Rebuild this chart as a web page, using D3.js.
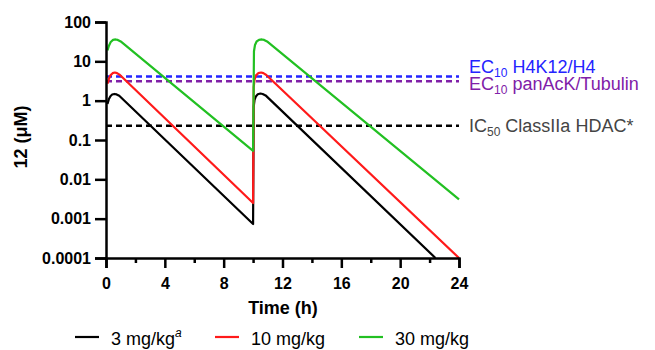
<html>
  <head>
    <script src="https://d3js.org/d3.v7.min.js"></script>
    <style>
      body { margin: 0; background: white; }
      text { font-family: Arial, "Liberation Sans", sans-serif; }
    </style>
  </head>
  <body>
    <svg id="pk" width="655" height="350"></svg>
    <script>
      // data: [time (h), concentration (uM)]
      const dose3 = [
        [0.1, 0.82], [0.2, 1.1], [0.3, 1.3], [0.42, 1.43], [0.57, 1.48], [0.72, 1.44], [0.9, 1.33],
        [10.0, 0.00073],
        [10.04, 0.7], [10.1, 1.05], [10.2, 1.3], [10.32, 1.45], [10.5, 1.52], [10.65, 1.48], [10.85, 1.36],
        [22.4, 0.0001]
      ];
      const dose10 = [
        [0.1, 2.7], [0.2, 3.6], [0.3, 4.4], [0.45, 5.0], [0.6, 5.2], [0.75, 5.0], [0.95, 4.5],
        [10.0, 0.0025],
        [10.04, 2.2], [10.1, 3.4], [10.2, 4.4], [10.35, 5.0], [10.55, 5.2], [10.7, 5.0], [10.9, 4.5],
        [24.0, 0.0001]
      ];
      const dose30 = [
        [0.1, 19], [0.2, 25], [0.32, 31], [0.48, 35], [0.65, 36], [0.8, 35], [1.0, 32],
        [10.0, 0.053],
        [10.06, 18], [10.13, 26], [10.24, 32], [10.4, 35], [10.6, 36], [10.75, 35], [10.95, 32],
        [24.0, 0.0031]
      ];
      const seriesNames = ["3 mg/kg", "10 mg/kg", "30 mg/kg"];
      const seriesColors = ["#000000", "#ff1a1a", "#22c022"];

      // thresholds (dashed lines)
      const thresholdValues = [4.1, 3.1, 0.23];
      const thresholdColors = ["#2424ff", "#8020a8", "#000000"];
      const thresholdLabels = [
        ["EC", "10", " H4K12/H4"],
        ["EC", "10", " panAcK/Tubulin"],
        ["IC", "50", " ClassIIa HDAC*"]
      ];
      const labelColors = ["#2424ff", "#8020a8", "#444444"];

      const yTicks = [0.0001, 0.001, 0.01, 0.1, 1, 10, 100];
      const yTickLabels = ["0.0001", "0.001", "0.01", "0.1", "1", "10", "100"];
      const xMajor = [0, 4, 8, 12, 16, 20, 24];
      const xMinor = [2, 6, 10, 14, 18, 22];

      const svg = d3.select("#pk");
      const x = d3.scaleLinear().domain([0, 24]).range([106, 459]);
      const y = d3.scaleLog().domain([0.0001, 100]).range([258, 22]);

      // threshold lines
      svg.selectAll("line.thr")
        .data(thresholdValues)
        .join("line")
        .attr("class", "thr")
        .attr("x1", x(0))
        .attr("x2", x(24))
        .attr("y1", d => y(d))
        .attr("y2", d => y(d))
        .attr("stroke", (d, i) => thresholdColors[i])
        .attr("stroke-width", 2.5)
        .attr("stroke-dasharray", "6,4");

      // curves, clipped to the plot
      svg.append("clipPath").attr("id", "plotclip")
        .append("rect").attr("x", x(0)).attr("y", 0)
        .attr("width", x(24) - x(0) + 2).attr("height", y(0.0001));

      const line = d3.line()
        .x(d => x(d[0]))
        .y(d => y(d[1]));

      svg.append("g").attr("clip-path", "url(#plotclip)")
        .selectAll("path")
        .data([dose3, dose10, dose30])
        .join("path")
        .attr("d", line)
        .attr("fill", "none")
        .attr("stroke", (d, i) => seriesColors[i])
        .attr("stroke-width", 2.2)
        .attr("stroke-linejoin", "round");

      // axes
      svg.append("g")
        .attr("transform", "translate(" + x(0) + ",0)")
        .call(d3.axisLeft(y).tickValues(yTicks).tickFormat((d, i) => yTickLabels[i]).tickSize(11).tickPadding(4));
      svg.append("g")
        .attr("transform", "translate(0," + y(0.0001) + ")")
        .call(d3.axisBottom(x).tickValues(xMajor).tickSize(10).tickPadding(10));
      svg.append("g")
        .attr("transform", "translate(0," + y(0.0001) + ")")
        .call(d3.axisBottom(x).tickValues(xMinor).tickSize(5).tickFormat(""))
        .select(".domain").remove();

      svg.selectAll(".domain, .tick line")
        .attr("stroke", "#000")
        .attr("stroke-width", 2.5);
      svg.selectAll(".tick text")
        .attr("fill", "#000")
        .style("font-size", "16px")
        .style("font-weight", "bold");

      // axis titles
      svg.append("text")
        .attr("transform", "translate(27,137) rotate(-90)")
        .attr("text-anchor", "middle")
        .style("font-size", "18px")
        .style("font-weight", "bold")
        .text("12 (μM)");
      svg.append("text")
        .attr("x", 283)
        .attr("y", 314)
        .attr("text-anchor", "middle")
        .style("font-size", "18px")
        .style("font-weight", "bold")
        .text("Time (h)");

      // threshold labels
      const labelY = [73, 90, 132];
      thresholdLabels.forEach((parts, i) => {
        const t = svg.append("text")
          .attr("x", 469)
          .attr("y", labelY[i])
          .attr("fill", labelColors[i])
          .style("font-size", "18px");
        t.append("tspan").text(parts[0]);
        t.append("tspan").attr("dy", 4).style("font-size", "12px").text(parts[1]);
        t.append("tspan").attr("dy", -4).text(parts[2]);
      });

      // legend
      const legendX = [75, 215, 359];
      seriesNames.forEach((name, i) => {
        svg.append("line")
          .attr("x1", legendX[i]).attr("x2", legendX[i] + 24)
          .attr("y1", 337).attr("y2", 337)
          .attr("stroke", seriesColors[i])
          .attr("stroke-width", 2.2);
        const t = svg.append("text")
          .attr("x", legendX[i] + 36)
          .attr("y", 345)
          .attr("fill", "#000")
          .style("font-size", "18px")
          .text(name);
        if (i === 0) {
          t.append("tspan").attr("dy", -8).style("font-size", "12px")
            .style("font-style", "italic").text("a");
        }
      });
    </script>
  </body>
</html>
